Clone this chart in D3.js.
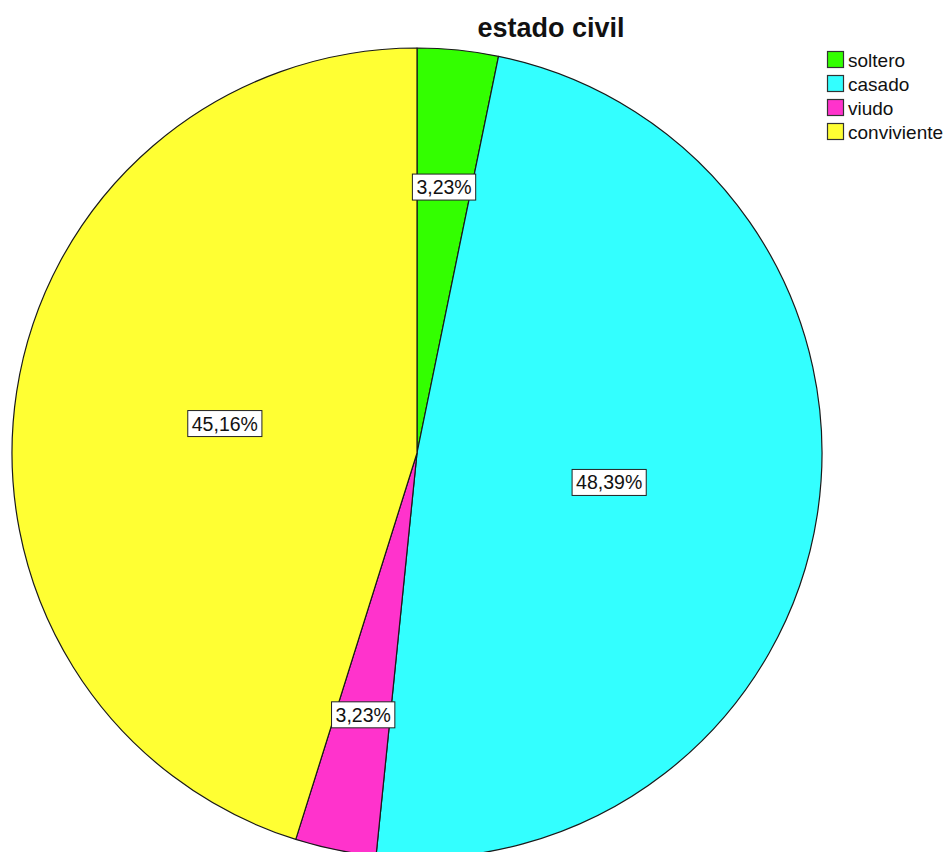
<!DOCTYPE html>
<html>
<head>
<meta charset="utf-8">
<script src="https://cdn.jsdelivr.net/npm/d3@7"></script>
<style>
  html, body { margin: 0; padding: 0; background: #fff; }
  svg { display: block; }
</style>
</head>
<body>
<svg id="chart" width="951" height="852"></svg>
<script>
// Estado civil: frequency counts per category
const categories = ["soltero", "casado", "viudo", "conviviente"];
const counts = [1, 15, 1, 14];
const colors = ["#33ff00", "#33ffff", "#ff33cc", "#ffff33"];
const title = "estado civil";

const svg = d3.select("#chart");
const cx = 417, cy = 453, R = 405;

const total = d3.sum(counts);
const fmt = v => (v * 100 / total).toFixed(2).replace(".", ",") + "%";

const pie = d3.pie().sort(null).startAngle(0).endAngle(2 * Math.PI);
const arcs = pie(counts);
const arc = d3.arc().innerRadius(0).outerRadius(R);

const g = svg.append("g").attr("transform", `translate(${cx},${cy})`);

g.selectAll("path.slice")
  .data(arcs)
  .join("path")
  .attr("class", "slice")
  .attr("d", arc)
  .attr("fill", (d, i) => colors[i])
  .attr("stroke", "#1a1a1a")
  .attr("stroke-width", 1.2)
  .attr("stroke-linejoin", "round");

// Percentage labels: small slices sit further out than the large ones
const labelRadius = d => {
  const frac = (d.endAngle - d.startAngle) / (2 * Math.PI);
  return frac < 0.1 ? R * 0.66 : R * 0.48;
};

const labels = g.selectAll("g.lbl")
  .data(arcs)
  .join("g")
  .attr("class", "lbl")
  .attr("transform", d => {
    const r = labelRadius(d);
    const p = d3.arc().innerRadius(r).outerRadius(r).centroid(d);
    return `translate(${p[0]},${p[1]})`;
  });

labels.each(function(d) {
  const sel = d3.select(this);
  const t = sel.append("text")
    .attr("text-anchor", "middle")
    .attr("dy", "0.36em")
    .attr("font-family", "Liberation Sans, Arial, sans-serif")
    .attr("font-size", 19.5)
    .attr("fill", "#111")
    .text(fmt(d.data));
  const bb = t.node().getBBox();
  sel.insert("rect", "text")
    .attr("x", bb.x - 4)
    .attr("y", -13)
    .attr("width", bb.width + 8)
    .attr("height", 26)
    .attr("fill", "#fff")
    .attr("stroke", "#222")
    .attr("stroke-width", 1);
});

// Title
svg.append("text")
  .attr("x", 551)
  .attr("y", 37)
  .attr("text-anchor", "middle")
  .attr("font-family", "Liberation Sans, Arial, sans-serif")
  .attr("font-weight", "bold")
  .attr("font-size", 27)
  .attr("fill", "#111")
  .text(title);

// Legend
const legend = svg.append("g").attr("transform", "translate(827,51)");
const rows = legend.selectAll("g.row")
  .data(categories)
  .join("g")
  .attr("class", "row")
  .attr("transform", (d, i) => `translate(0,${i * 24})`);

rows.append("rect")
  .attr("x", 0.5).attr("y", 0.5)
  .attr("width", 16).attr("height", 16)
  .attr("fill", (d, i) => colors[i])
  .attr("stroke", "#333")
  .attr("stroke-width", 1.2);

rows.append("text")
  .attr("x", 21)
  .attr("y", 9)
  .attr("dy", "0.35em")
  .attr("font-family", "Liberation Sans, Arial, sans-serif")
  .attr("font-size", 19)
  .attr("fill", "#111")
  .text(d => d);
</script>
</body>
</html>
